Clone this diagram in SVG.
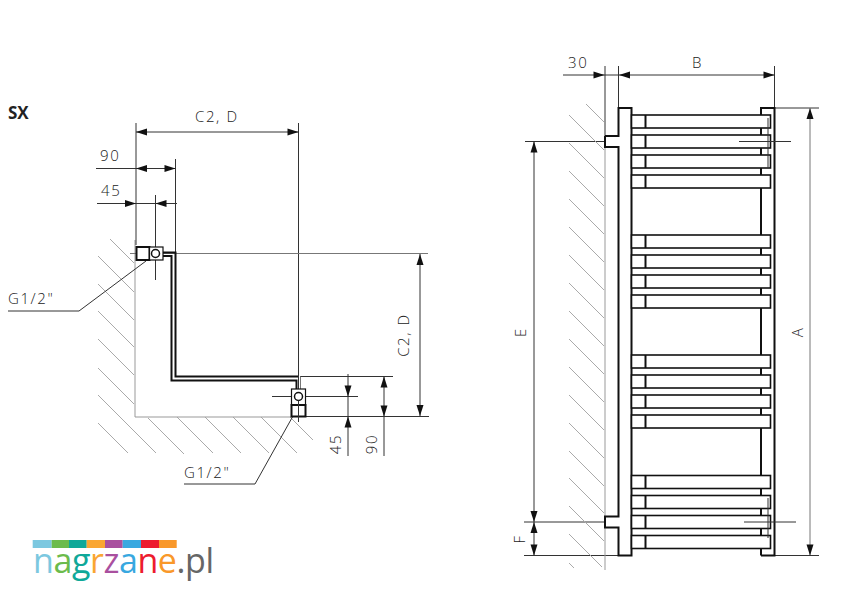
<svg xmlns="http://www.w3.org/2000/svg" xmlns:xlink="http://www.w3.org/1999/xlink" width="850" height="600" viewBox="0 0 850 600">
<style>
text{font-family:"Open Sans","Liberation Sans",sans-serif;font-weight:300;font-size:15px;fill:#222;letter-spacing:1.6px}
.h{stroke:#aaa;stroke-width:1;fill:none}
.w{stroke:#999;stroke-width:1;fill:none}
.d{stroke:#333;stroke-width:1;fill:none}
.m{stroke:#777;stroke-width:1;fill:none}
.t{stroke:#111;stroke-width:2;fill:#fff}
.n{stroke:#111;stroke-width:1.2;fill:#fff}
.o{stroke:#111;stroke-width:2;fill:none}
.b{stroke:#111;stroke-width:1.6;fill:#fff}
</style>
<defs>
<polygon id="ah" points="0,0 -11,-3.5 -11,3.5" fill="#111"/>
<g id="bar"><rect class="b" x="631.5" y="0" width="139" height="13"/><path class="o" d="M645.5 0V13"/></g>
<g id="bars"><use xlink:href="#bar" y="0"/><use xlink:href="#bar" y="20"/><use xlink:href="#bar" y="40"/><use xlink:href="#bar" y="60"/></g>
</defs>
<rect width="850" height="600" fill="#fff"/>
<text x="8" y="119" style="font-weight:700;font-size:17px;fill:#222;letter-spacing:0">SX</text>

<g id="wall-left">
<path class="h" d="M110 239L134 263M98 256L134 292M98 284L134 320M98 311L134 347M98 339L134 375M98 368L134 404M148 418L184 454M98 395L156 453M98 423L128 453M177 417L213 453M205 417L241 453M233 417L269 453M261 417L297 453M290 417L313 440"/>
<path class="w" d="M135 240V417H291"/>
</g>

<g id="connectors">
<path class="d" d="M136 123V245M298.500 123V390M136 132H298.500M96 168.500H176M97 203.500H177M175.500 159V252M155.500 195V280"/>
<path class="m" d="M130 253.500H428"/>
<path class="d" d="M305 416.500H429M300 376.500H393M272 396.500H358M420 254V416M348 374V456M384 377V456"/>
<path class="d" d="M8 311H79L146 261M184 484H255L293 416"/>
<use xlink:href="#ah" transform="translate(136,132) rotate(180)"/>
<use xlink:href="#ah" transform="translate(298.500,132)"/>
<use xlink:href="#ah" transform="translate(136,168.500) rotate(180)"/>
<use xlink:href="#ah" transform="translate(175.500,168.500)"/>
<use xlink:href="#ah" transform="translate(136,203.500)"/>
<use xlink:href="#ah" transform="translate(155.500,203.500) rotate(180)"/>
<use xlink:href="#ah" transform="translate(420,254) rotate(-90)"/>
<use xlink:href="#ah" transform="translate(420,416) rotate(90)"/>
<use xlink:href="#ah" transform="translate(348,396.500) rotate(90)"/>
<use xlink:href="#ah" transform="translate(348,416.500) rotate(-90)"/>
<use xlink:href="#ah" transform="translate(384,376.500) rotate(-90)"/>
<use xlink:href="#ah" transform="translate(384,416.500) rotate(90)"/>
<path class="d" d="M563 75H775M605 66V140M618.500 66V108M774.500 66V108M774 108H819M775 555.500H819M525 141.500H605M524 522H605M524 555.500H618M534 141.500V555"/>
<path class="m" d="M810 108V555"/>
<use xlink:href="#ah" transform="translate(604.500,75)"/>
<use xlink:href="#ah" transform="translate(619,75) rotate(180)"/>
<use xlink:href="#ah" transform="translate(774.500,75)"/>
<use xlink:href="#ah" transform="translate(534,141.500) rotate(-90)"/>
<use xlink:href="#ah" transform="translate(534,522) rotate(90)"/>
<use xlink:href="#ah" transform="translate(534,522) rotate(-90)"/>
<use xlink:href="#ah" transform="translate(534,555.500) rotate(90)"/>
<use xlink:href="#ah" transform="translate(810,108) rotate(-90)"/>
<use xlink:href="#ah" transform="translate(810,555.500) rotate(90)"/>
</g>

<g id="pipe">
<path class="o" d="M163 252.500H175.500V376.500H298"/>
<path class="o" d="M163 256H171.500V380.500H296.500V389"/>
<path class="m" d="M300.500 376.500V389"/>
</g>

<g id="fitting-top">
<rect class="t" x="136.500" y="247" width="13" height="13"/>
<rect class="n" x="149.500" y="247" width="13.500" height="13"/>
<circle class="n" cx="155.500" cy="253.500" r="4" style="stroke-width:1.5"/>
</g>
<g id="fitting-bottom">
<rect class="n" x="291.500" y="389" width="14" height="16"/>
<rect class="t" x="291.500" y="405" width="14" height="11.500"/>
<circle class="n" cx="298.500" cy="396.500" r="4" style="stroke-width:1.5"/>
<path class="d" d="M298.500 400.500V422"/>
</g>

<g id="labels-left">
<text x="195" y="122">C2, D</text>
<text x="100" y="161">90</text>
<text x="101" y="196">45</text>
<text x="8" y="304">G1/2"</text>
<text x="184" y="478">G1/2"</text>
<text transform="translate(409,335) rotate(-90)" text-anchor="middle">C2, D</text>
<text transform="translate(341,444) rotate(-90)" text-anchor="middle">45</text>
<text transform="translate(377,444) rotate(-90)" text-anchor="middle">90</text>
</g>

<g id="wall-right">
<path class="h" d="M586 104L604 122M569 115L604 150M569 143L604 178M569 171L604 206M569 199L604 234M569 227L604 262M569 255L604 290M569 283L604 318M569 311L604 346M569 339L604 374M569 367L604 402M569 395L604 430M569 423L604 458M569 451L604 486M569 478L604 513M569 506L604 541M569 534L602 567M569 563L574 568"/>
<path class="w" d="M605 140V570"/>
</g>

<g id="radiator">
<path class="o" d="M605 136H618.500V108H631.500V555.500H618.500V527.500H605V516.500H618.500V147H605V136"/>
<path class="o" d="M761 555.500V108H774.500V555.500H761"/>
<use xlink:href="#bars" y="115"/>
<use xlink:href="#bars" y="235"/>
<use xlink:href="#bars" y="355"/>
<use xlink:href="#bars" y="475.500"/>
<path class="d" d="M768 118V168M739 141.500H791M768 498V538M744 522H796"/>
</g>

<g id="labels-right">
<text x="568" y="68">30</text>
<text x="692" y="68">B</text>
<text transform="translate(526,332) rotate(-90)" text-anchor="middle">E</text>
<text transform="translate(525,539) rotate(-90)" text-anchor="middle">F</text>
<text transform="translate(803,332) rotate(-90)" text-anchor="middle">A</text>
</g>

<g id="logo">
<rect x="32.700" y="540" width="19" height="8" fill="#7cc8e0"/>
<rect x="51.700" y="540" width="17.300" height="8" fill="#6cbb4c"/>
<rect x="69" y="540" width="17.700" height="8" fill="#0fa899"/>
<rect x="86.700" y="540" width="18.300" height="8" fill="#faa632"/>
<rect x="105" y="540" width="17.700" height="8" fill="#a9509f"/>
<rect x="122.700" y="540" width="18.300" height="8" fill="#38a8e0"/>
<rect x="141" y="540" width="18" height="8" fill="#ed1c2e"/>
<rect x="159" y="540" width="17.700" height="8" fill="#f9982a"/>
<text x="33" y="573" textLength="181" style="font-size:34px;letter-spacing:0;font-weight:400"><tspan fill="#7cc8e0">n</tspan><tspan fill="#6cbb4c">a</tspan><tspan fill="#0fa899">g</tspan><tspan fill="#faa632">r</tspan><tspan fill="#a9509f">z</tspan><tspan fill="#38a8e0">a</tspan><tspan fill="#ed1c2e">n</tspan><tspan fill="#f9982a">e</tspan><tspan fill="#666">.pl</tspan></text>
</g>
</svg>
